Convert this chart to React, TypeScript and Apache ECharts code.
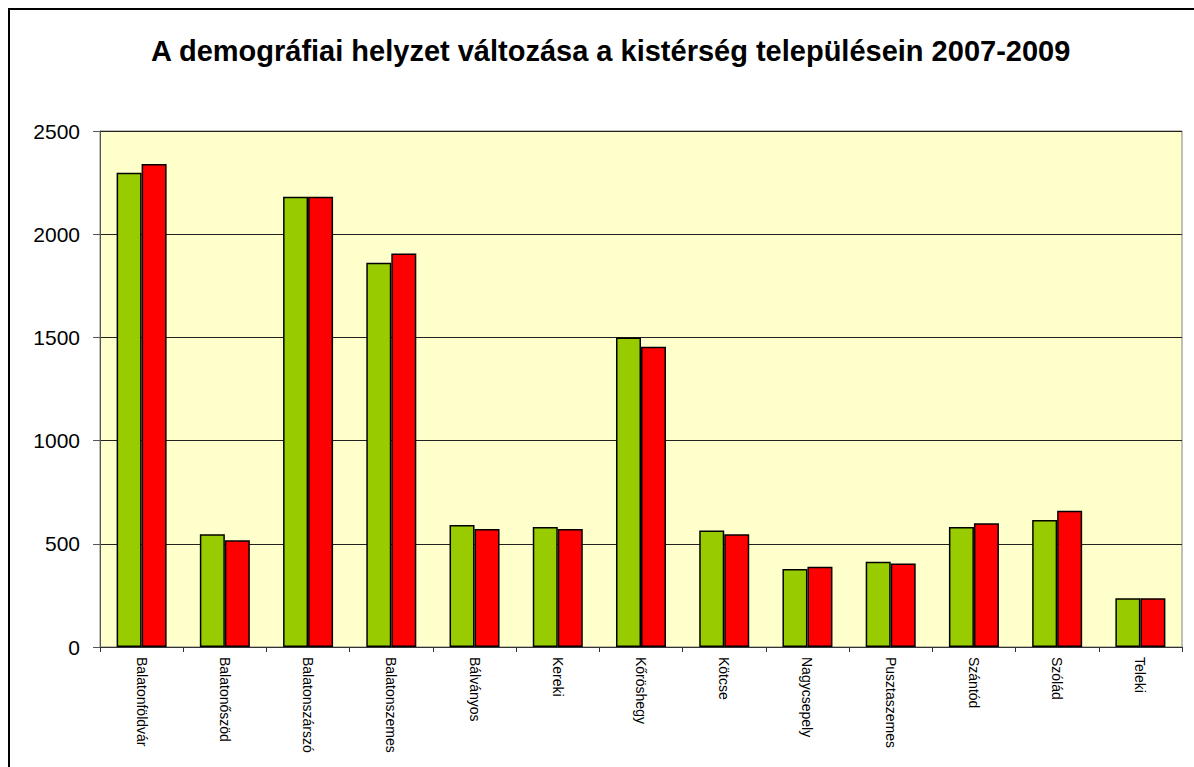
import React, { useEffect, useRef } from "react";
import * as echarts from "echarts";

const titleText = "A demográfiai helyzet változása a kistérség településein 2007-2009";
const categories = [
  "Balatonföldvár",
  "Balatonőszöd",
  "Balatonszárszó",
  "Balatonszemes",
  "Bálványos",
  "Kereki",
  "Kőröshegy",
  "Kötcse",
  "Nagycsepely",
  "Pusztaszemes",
  "Szántód",
  "Szólád",
  "Teleki",
];
const values2007 = [2298, 546, 2182, 1862, 591, 581, 1499, 564, 378, 413, 581, 615, 236];
const values2009 = [2340, 517, 2182, 1907, 572, 572, 1455, 546, 389, 404, 599, 660, 236];
const yMin = 0;
const yMax = 2500;
const yInterval = 500;

const FONT = "'Liberation Sans', Arial, sans-serif";

export default function App() {
  const ref = useRef<HTMLDivElement>(null);
  useEffect(() => {
    if (!ref.current) return;
    const chart = echarts.init(ref.current, null, { renderer: "svg" });
    chart.setOption({
      animation: false,
      backgroundColor: "#ffffff",
      textStyle: { fontFamily: FONT },
      title: {
        text: titleText,
        left: 146,
        top: 31,
        textStyle: { fontFamily: FONT, fontWeight: "bold", fontSize: 29, color: "#000" },
      },
      graphic: [
        {
          type: "rect",
          shape: { x: 9, y: 9, width: 1220, height: 800 },
          style: { fill: "none", stroke: "#000", lineWidth: 2 },
          silent: true,
          z: 100,
        },
      ],
      grid: {
        left: 100,
        top: 131,
        right: 12,
        bottom: 120,
        show: true,
        backgroundColor: "#FFFFCC",
        borderColor: "#808080",
        borderWidth: 1,
      },
      xAxis: {
        type: "category",
        data: categories,
        axisLine: { show: true, lineStyle: { color: "#333", width: 1 } },
        axisTick: { show: true, length: 5, lineStyle: { color: "#333" } },
        axisLabel: {
          rotate: -90,
          interval: 0,
          margin: 10,
          fontSize: 14,
          color: "#000",
          fontFamily: FONT,
        },
      },
      yAxis: {
        type: "value",
        min: yMin,
        max: yMax,
        interval: yInterval,
        axisLine: { show: true, lineStyle: { color: "#555", width: 1 } },
        axisTick: { show: true, length: 7, lineStyle: { color: "#555" } },
        axisLabel: {
          fontSize: 21,
          color: "#000",
          margin: 20,
          fontFamily: FONT,
          formatter: (v: number) => String(v),
        },
        splitLine: { show: true, lineStyle: { color: "#222", width: 1 } },
      },
      series: [
        {
          name: "2007",
          type: "bar",
          data: values2007,
          barWidth: 25,
          barGap: "0%",
          itemStyle: { color: "#99CC00", borderColor: "#000", borderWidth: 1.5 },
        },
        {
          name: "2009",
          type: "bar",
          data: values2009,
          barWidth: 25,
          barGap: "0%",
          itemStyle: { color: "#FF0000", borderColor: "#000", borderWidth: 1.5 },
        },
      ],
    });
    return () => chart.dispose();
  }, []);
  return (
    <div
      ref={ref}
      style={{ position: "absolute", left: 0, top: 0, width: 1194, height: 767 }}
    />
  );
}
